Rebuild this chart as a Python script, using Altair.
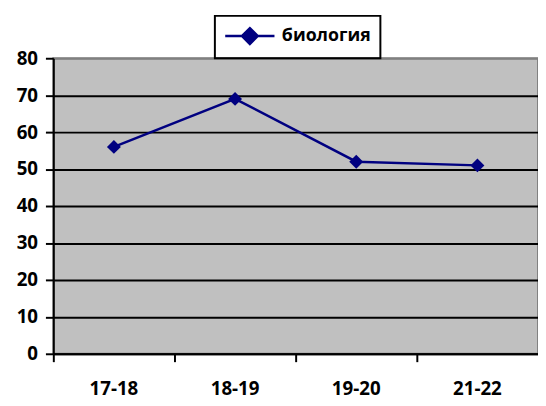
import altair as alt
import pandas as pd

years = ["17-18", "18-19", "19-20", "21-22"]
values = [56, 69, 52, 51]
series = ["биология"] * len(years)

df = pd.DataFrame({"year": years, "value": values, "series": series})

FONT = "Open Sans"
NAVY = "#000080"

x = alt.X("year:N", sort=years, title=None,
          scale=alt.Scale(type="band", paddingInner=0, paddingOuter=0),
          axis=alt.Axis(labelAngle=0, bandPosition=0, tickSize=8, tickWidth=2,
                        tickColor="black", domainColor="black", domainWidth=2,
                        labelFont=FONT, labelFontSize=19, labelFontWeight="bold",
                        labelColor="black", labelPadding=18, grid=False))
y = alt.Y("value:Q", title=None,
          scale=alt.Scale(domain=[0, 80], nice=False),
          axis=alt.Axis(values=[0, 10, 20, 30, 40, 50, 60, 70, 80],
                        tickSize=8, tickWidth=2, tickColor="black",
                        domainColor="black", domainWidth=2,
                        labelFont=FONT, labelFontSize=19, labelFontWeight="bold",
                        labelColor="black", labelPadding=8,
                        grid=True, gridWidth=2,
                        gridColor={"condition": {"test": "datum.value === 80", "value": "#808080"}, "value": "black"}))

color = alt.Color("series:N", title=None,
                  scale=alt.Scale(range=[NAVY]),
                  legend=alt.Legend(orient="none", legendX=164, legendY=-43,
                                    strokeColor="black", padding=9,
                                    symbolType="M-1,0H4M1.5,-0.8L2.3,0L1.5,0.8L0.7,0Z",
                                    symbolSize=400, symbolStrokeWidth=2.5,
                                    symbolFillColor=NAVY, symbolStrokeColor=NAVY,
                                    labelFont=FONT, labelFontSize=18, labelFontWeight="bold",
                                    labelColor="black", labelOffset=36))

line = alt.Chart(df).mark_line(strokeWidth=2.5).encode(x=x, y=y, color=color)
pts = alt.Chart(df).mark_point(shape="diamond", filled=True, size=200, opacity=1).encode(
    x=x, y=y, color=alt.Color("series:N", scale=alt.Scale(range=[NAVY]), legend=None))

chart = alt.layer(line, pts).properties(
    width=492, height=300,
    autosize=alt.AutoSizeParams(type="none"),
    padding={"left": 46, "top": 48, "right": 0, "bottom": 50},
).configure(background="white").configure_view(
    fill="#C0C0C0", stroke="#808080", strokeWidth=2
).configure_legend(strokeWidth=2)

chart.save("out.html", embed_options={"renderer": "svg", "actions": False})
